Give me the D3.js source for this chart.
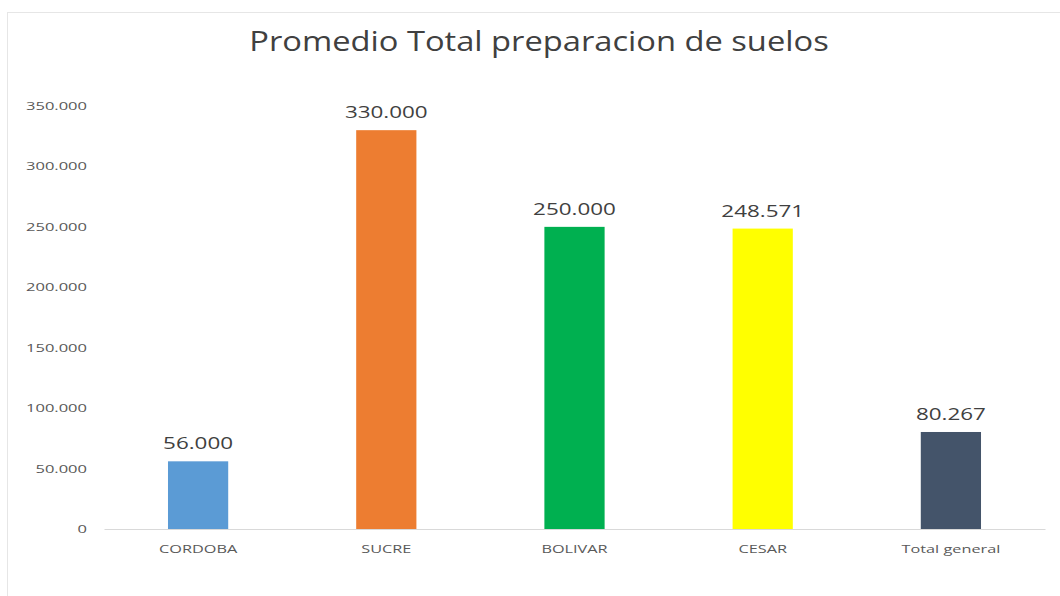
<!DOCTYPE html>
<html>
<head>
<meta charset="utf-8">
<script src="https://d3js.org/d3.v7.min.js"></script>
<style>
  body { margin: 0; background: #fff; }
  svg { display: block; }
</style>
</head>
<body>
<div id="chart"></div>
<script>
// Data
const categories = ["CORDOBA", "SUCRE", "BOLIVAR", "CESAR", "Total general"];
const values = [56000, 330000, 250000, 248571, 80267];
const barColors = ["#5B9BD5", "#ED7D31", "#00B050", "#FFFF00", "#44546A"];
const yTicks = [0, 50000, 100000, 150000, 200000, 250000, 300000, 350000];

const W = 1060, H = 596;
const margin = {top: 106, right: 15, bottom: 67, left: 104};
const width = W - margin.left - margin.right;
const height = H - margin.top - margin.bottom;

// Spanish style thousands: 56.000
const fmt = d => d === 0 ? "0" : d3.format(",")(d).replace(/,/g, ".");
const fmt3 = d => (d / 1000).toFixed(3);

// the source image text is wide, stretch glyphs horizontally
function stretch(sel, factor) {
    sel.each(function() {
        const len = this.getComputedTextLength();
        d3.select(this)
            .attr("textLength", len * factor)
            .attr("lengthAdjust", "spacingAndGlyphs");
    });
}

const svg = d3.select("#chart")
    .append("svg")
    .attr("width", W)
    .attr("height", H);

// chart border
svg.append("rect")
    .attr("x", 7.5)
    .attr("y", 12.5)
    .attr("width", W)
    .attr("height", H)
    .attr("fill", "#fff")
    .attr("stroke", "#e6e6e6");

// Title
svg.append("text")
    .attr("x", 539)
    .attr("y", 51)
    .attr("text-anchor", "middle")
    .attr("font-family", "Open Sans, sans-serif")
    .attr("font-size", 27)
    .attr("fill", "#404040")
    .text("Promedio Total preparacion de suelos")
    .call(stretch, 1.21);

const g = svg.append("g")
    .attr("transform", `translate(${margin.left},${margin.top})`);

const x = d3.scaleBand()
    .domain(categories)
    .range([0, width])
    .paddingInner(0.68)
    .paddingOuter(0.34);

const y = d3.scaleLinear()
    .domain([0, 350000])
    .range([height, 0]);

// Y axis (labels only)
const yAxis = g.append("g")
    .call(d3.axisLeft(y).tickValues(yTicks).tickFormat(fmt).tickSize(0).tickPadding(17));
yAxis.select(".domain").remove();
yAxis.selectAll("text")
    .attr("font-family", "Open Sans, sans-serif")
    .attr("font-size", 11)
    .attr("fill", "#595959")
    .call(stretch, 1.5);

// X axis
const xAxis = g.append("g")
    .attr("transform", `translate(0,${height})`)
    .call(d3.axisBottom(x).tickSize(0).tickPadding(17));
xAxis.select(".domain").attr("stroke", "#d9d9d9");
xAxis.selectAll("text")
    .attr("font-family", "Open Sans, sans-serif")
    .attr("font-size", 10.5)
    .attr("fill", "#595959")
    .call(stretch, 1.55);

// Bars
g.selectAll(".bar")
    .data(values)
    .enter()
    .append("rect")
    .attr("class", "bar")
    .attr("x", (d, i) => x(categories[i]))
    .attr("y", d => y(d))
    .attr("width", x.bandwidth())
    .attr("height", d => height - y(d))
    .attr("fill", (d, i) => barColors[i]);

// Value labels
g.selectAll(".label")
    .data(values)
    .enter()
    .append("text")
    .attr("class", "label")
    .attr("x", (d, i) => x(categories[i]) + x.bandwidth() / 2)
    .attr("y", d => y(d) - 12)
    .attr("text-anchor", "middle")
    .attr("font-family", "Open Sans, sans-serif")
    .attr("font-size", 16)
    .attr("fill", "#404040")
    .text(fmt3)
    .call(stretch, 1.4);
</script>
</body>
</html>
